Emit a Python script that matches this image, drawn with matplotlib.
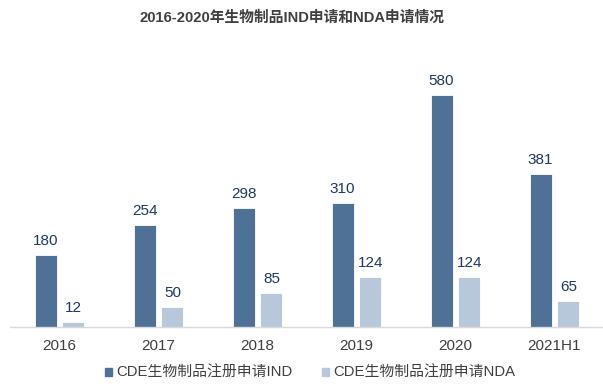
import matplotlib
matplotlib.use("Agg")
import matplotlib.pyplot as plt
import numpy as np
from matplotlib.patches import Patch

plt.rcParams['font.family'] = ['Liberation Sans', 'Noto Sans CJK SC']

categories = ["2016", "2017", "2018", "2019", "2020", "2021H1"]
ind_values = [180, 254, 298, 310, 580, 381]
nda_values = [12, 50, 85, 124, 124, 65]
series_names = ["CDE生物制品注册申请IND", "CDE生物制品注册申请NDA"]
title = "2016-2020年生物制品IND申请和NDA申请情况"

c_ind = "#4F7196"
c_nda = "#B7C8DA"
lab_col = "#1F3864"
txt_col = "#404040"

W, H = 603, 388
fig = plt.figure(figsize=(W/100, H/100), dpi=100)
ax = fig.add_axes([10/W, (H-327)/H, 594/W, 267/H])

x = np.arange(len(categories))
w = 0.222
off = 0.141
b1 = ax.bar(x - off, ind_values, w, color=c_ind, edgecolor="white", linewidth=0.6)
b2 = ax.bar(x + off, nda_values, w, color=c_nda, edgecolor="white", linewidth=0.6)
for rect, v in zip(b1, ind_values):
    ax.text(rect.get_x() + rect.get_width()/2, v + 18, str(v), ha="center", va="bottom",
            fontsize=11, color=lab_col)
for rect, v in zip(b2, nda_values):
    ax.text(rect.get_x() + rect.get_width()/2, v + 18, str(v), ha="center", va="bottom",
            fontsize=11, color=lab_col)

ax.set_xlim(-0.5, len(categories) - 0.5)
ax.set_ylim(0, 667)
for s in ["top", "right", "left"]:
    ax.spines[s].set_visible(False)
ax.spines["bottom"].set_color("#D9D9D9")
ax.spines["bottom"].set_linewidth(1)
ax.set_yticks([])
ax.set_xticks(x)
ax.set_xticklabels(categories, fontsize=11, color=txt_col)
ax.tick_params(axis="x", length=0, pad=9)

fig.text(292/W, 1 - 18/H, title, ha="center", va="center", fontsize=10.6,
         fontweight="bold", color=txt_col)

handles = [Patch(color=c_ind), Patch(color=c_nda)]
fig.legend(handles, series_names, loc="center", bbox_to_anchor=(310/W, 1 - 373/H),
           ncol=2, frameon=False, fontsize=10.7, handlelength=0.5, handleheight=0.5,
           handletextpad=0.25, columnspacing=2.0, labelcolor=txt_col)

fig.savefig("out.png", dpi=100)
